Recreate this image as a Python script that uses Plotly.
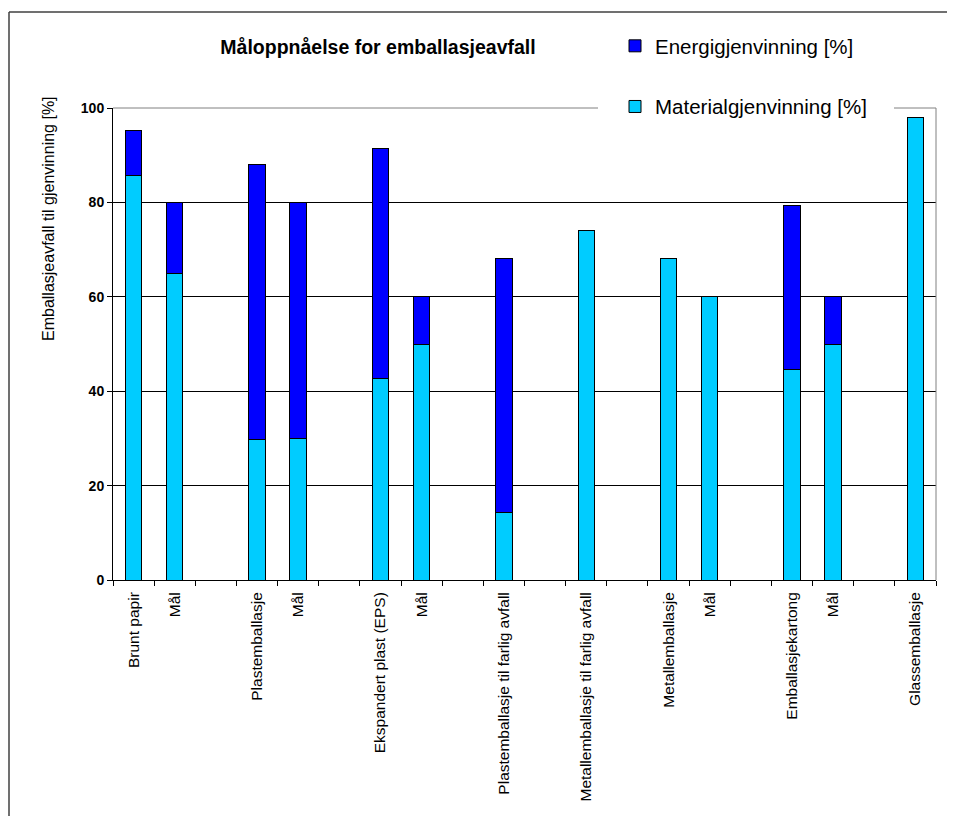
import plotly.graph_objects as go

categories = ["Brunt papir", "Mål", "", "Plastemballasje", "Mål", "",
              "Ekspandert plast (EPS)", "Mål", "", "Plastemballasje til farlig avfall", "",
              "Metallemballasje til farlig avfall", "", "Metallemballasje", "Mål", "",
              "Emballasjekartong", "Mål", "", "Glassemballasje"]
material = [85.6, 65, None, 29.8, 30, None, 42.7, 50, None, 14.4, None,
            74.0, None, 68.1, 60, None, 44.5, 50, None, 98.0]
energi = [9.7, 15, None, 58.3, 50, None, 48.8, 10, None, 53.7, None,
          None, None, None, None, None, 34.8, 10, None, None]
y_ticks = [0, 20, 40, 60, 80, 100]

x = list(range(len(categories)))
boundaries = [i - 0.5 for i in range(len(categories) + 1)]

FONT = "Arial, Liberation Sans, sans-serif"

fig = go.Figure()
fig.add_trace(go.Bar(
    x=x, y=material, name="Materialgjenvinning [%]", width=0.4,
    marker=dict(color="#00CCFF", line=dict(color="black", width=1)),
    legendgroup="m", legendrank=2,
))
fig.add_trace(go.Bar(
    x=x, y=energi, name="Energigjenvinning [%]", width=0.4,
    marker=dict(color="#0000FF", line=dict(color="black", width=1)),
    legendgroup="e", legendrank=1,
))

W, H = 955, 816
OFF = 8  # page body margin
# plot area in screen pixels: x 113..936, y 108..580
SL, SR, ST, SB = 113, 936, 108, 580
L = SL - OFF
T = ST - OFF
R = W - (SR - OFF)
B = H - (SB - OFF)
pw = SR - SL
ph = SB - ST

def px_x(p):
    return (p - SL) / pw

def px_y(p):
    return (SB - p) / ph

shapes = [
    dict(type="line", xref="paper", yref="paper", x0=0, x1=px_x(598), y0=1, y1=1,
         line=dict(color="#808080", width=1), layer="above"),
    dict(type="line", xref="paper", yref="paper", x0=px_x(894), x1=1, y0=1, y1=1,
         line=dict(color="#808080", width=1), layer="above"),
    dict(type="line", xref="paper", yref="paper", x0=1, x1=1, y0=0, y1=1,
         line=dict(color="#808080", width=1), layer="above"),
    # outer frame
    dict(type="line", xref="paper", yref="paper", x0=px_x(9), x1=px_x(9),
         y0=px_y(12), y1=px_y(840), line=dict(color="#404040", width=1.5)),
    dict(type="line", xref="paper", yref="paper", x0=px_x(9), x1=px_x(980),
         y0=px_y(12), y1=px_y(12), line=dict(color="#404040", width=1.5)),
]

fig.update_layout(
    width=W, height=H,
    margin=dict(l=L, r=R, t=T, b=B, pad=0),
    paper_bgcolor="white", plot_bgcolor="white",
    barmode="stack",
    font=dict(family=FONT, color="black"),
    title=dict(text="<b>Måloppnåelse for emballasjeavfall</b>",
               x=px_x(378), xref="paper", xanchor="center",
               y=1 - (47 - OFF) / H, yref="container", yanchor="middle",
               font=dict(size=19.5, family=FONT, color="black")),
    legend=dict(x=px_x(615), xanchor="left", y=px_y(26), yanchor="top",
                bgcolor="rgba(0,0,0,0)", borderwidth=0,
                font=dict(size=20.5, family=FONT, color="black"),
                traceorder="grouped", tracegroupgap=31),
    showlegend=True,
    shapes=shapes,
    annotations=[dict(text="Emballasjeavfall til gjenvinning [%]", textangle=-90,
                      xref="paper", yref="paper", x=px_x(48), y=px_y(219),
                      xanchor="center", yanchor="middle", showarrow=False,
                      font=dict(size=16, family=FONT, color="black"))],
)

fig.update_xaxes(
    range=[-0.5, len(categories) - 0.5],
    tickmode="array", tickvals=x, ticktext=categories,
    tickangle=-90, ticks="outside", ticklen=5, tickcolor="rgba(0,0,0,0)",
    tickfont=dict(size=15.5, family=FONT, color="black"),
    showline=True, linecolor="black", linewidth=1,
    showgrid=False, zeroline=False,
    minor=dict(tickmode="array", tickvals=boundaries, ticks="outside",
               ticklen=5, tickcolor="black", tickwidth=1, showgrid=False),
)
fig.update_yaxes(
    range=[0, 100],
    tickmode="array", tickvals=y_ticks,
    ticktext=[f"<b>{v}</b>" for v in y_ticks],
    ticks="outside", ticklen=5, tickcolor="black",
    tickfont=dict(size=14, family=FONT, color="black"),
    showline=True, linecolor="black", linewidth=1,
    showgrid=True, gridcolor="black", gridwidth=1, zeroline=False,
)

fig.write_html("out.html")
